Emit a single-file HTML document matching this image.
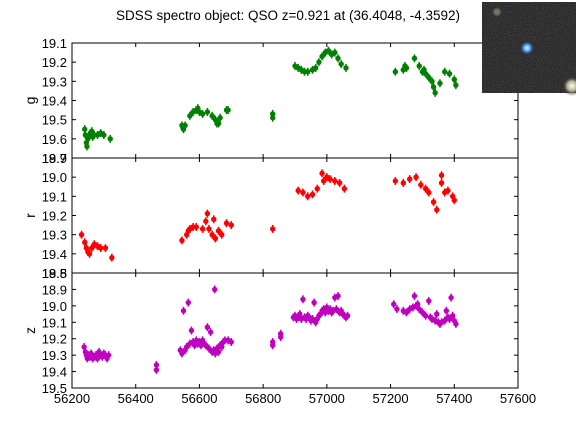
<!DOCTYPE html>
<html><head><meta charset="utf-8"><style>
body{margin:0;background:#fff;}
svg{display:block;font-family:"Liberation Sans",sans-serif;}
</style></head><body>
<svg id="c" width="576" height="432">
<defs>
<radialGradient id="star" cx="50%" cy="50%" r="50%"><stop offset="0" stop-color="#e8f4ff"/><stop offset="0.4" stop-color="#5aa8ff"/><stop offset="1" stop-color="#0a1020" stop-opacity="0"/></radialGradient>
<radialGradient id="corner" cx="50%" cy="50%" r="50%"><stop offset="0" stop-color="#fffff0"/><stop offset="0.5" stop-color="#b0b090"/><stop offset="1" stop-color="#111" stop-opacity="0"/></radialGradient>
<filter id="nz" x="0" y="0" width="100%" height="100%">
<feTurbulence type="fractalNoise" baseFrequency="0.9" numOctaves="1" seed="3"/>
</filter>
</defs>
<text x="288" y="20" text-anchor="middle" font-size="13.5">SDSS spectro object: QSO z=0.921 at (36.4048, -4.3592)</text>
<g id="plots"></g>
<g>
<rect x="482" y="2" width="94" height="91" fill="#141414"/>
<rect x="482" y="2" width="94" height="91" filter="url(#nz)" opacity="0.35"/>
<circle cx="527" cy="48" r="8" fill="url(#star)"/>
<circle cx="572" cy="86" r="10" fill="url(#corner)"/>
<circle cx="497" cy="12" r="6" fill="url(#corner)" opacity="0.4"/>
</g>
</svg>
<script>
const gMjd=[56240,56242,56245,56247,56250,56255,56258,56262,56265,56270,56280,56290,56300,56320,56545,56548,56550,56555,56570,56580,56590,56595,56600,56610,56625,56640,56650,56655,56660,56665,56685,56690,56830,56830,56900,56910,56920,56930,56940,56955,56965,56975,56985,56995,57005,57015,57025,57035,57045,57060,57215,57240,57245,57250,57275,57290,57300,57305,57310,57320,57330,57335,57340,57355,57370,57385,57400,57405];
const gMag=[19.55,19.58,19.62,19.64,19.60,19.58,19.57,19.56,19.59,19.58,19.58,19.57,19.58,19.60,19.53,19.54,19.55,19.53,19.48,19.46,19.45,19.44,19.46,19.47,19.46,19.48,19.50,19.52,19.52,19.49,19.45,19.45,19.47,19.49,19.22,19.23,19.24,19.25,19.25,19.24,19.23,19.20,19.17,19.15,19.14,19.16,19.15,19.18,19.21,19.23,19.25,19.24,19.22,19.23,19.18,19.22,19.25,19.24,19.26,19.28,19.30,19.33,19.36,19.31,19.25,19.26,19.29,19.32];
const rMjd=[56230,56240,56245,56250,56255,56262,56270,56280,56290,56305,56325,56545,56560,56565,56570,56580,56590,56610,56620,56625,56630,56640,56645,56650,56660,56670,56685,56700,56830,56910,56925,56940,56955,56970,56985,56990,57000,57010,57025,57040,57055,57215,57240,57260,57280,57295,57310,57320,57335,57345,57360,57360,57370,57380,57395,57400];
const rMag=[19.30,19.34,19.37,19.39,19.40,19.37,19.35,19.36,19.37,19.37,19.42,19.33,19.30,19.28,19.27,19.26,19.26,19.27,19.23,19.19,19.27,19.30,19.22,19.32,19.28,19.30,19.24,19.25,19.27,19.07,19.08,19.10,19.09,19.06,18.98,19.02,19.00,19.01,19.02,19.03,19.06,19.02,19.03,19.01,19.00,19.04,19.06,19.08,19.13,19.17,19.03,18.99,19.08,19.07,19.10,19.12];
const zMjd=[56238,56242,56245,56248,56252,56256,56260,56265,56270,56275,56280,56285,56290,56295,56300,56305,56310,56315,56465,56465,56540,56545,56550,56555,56560,56565,56570,56575,56580,56585,56590,56595,56600,56605,56610,56615,56620,56625,56630,56635,56640,56645,56648,56650,56655,56660,56665,56670,56675,56680,56690,56700,56830,56830,56855,56855,56895,56900,56905,56910,56915,56920,56925,56930,56935,56940,56945,56950,56955,56960,56965,56970,56975,56980,56985,56990,56995,57000,57005,57010,57015,57020,57025,57030,57035,57040,57045,57050,57055,57060,57065,57210,57220,57240,57250,57260,57270,57275,57280,57285,57290,57300,57310,57320,57325,57330,57340,57345,57350,57355,57360,57370,57375,57380,57385,57390,57395,57400,57405];
const zMag=[19.25,19.28,19.30,19.32,19.30,19.31,19.29,19.32,19.31,19.30,19.32,19.28,19.30,19.31,19.29,19.30,19.32,19.30,19.36,19.39,19.27,19.29,19.03,19.27,19.25,18.98,19.23,19.15,19.22,19.24,19.21,19.23,19.22,19.24,19.21,19.23,19.24,19.13,19.26,19.16,19.28,19.27,18.90,19.29,19.26,19.28,19.24,19.25,19.22,19.21,19.21,19.22,19.22,19.24,19.17,19.19,19.07,19.06,19.08,19.07,19.05,19.08,18.96,19.07,19.08,19.06,19.07,19.09,19.08,18.98,19.10,19.08,19.06,19.05,19.03,19.02,19.04,19.01,19.03,19.02,19.04,19.03,18.95,19.02,18.94,19.04,19.03,19.05,19.06,19.07,19.06,18.99,19.02,19.03,19.04,19.02,19.01,18.94,19.00,18.99,19.02,19.04,19.06,18.97,19.07,19.08,19.09,19.05,19.10,19.11,19.10,19.09,19.03,19.07,19.08,18.95,19.06,19.09,19.11];
const xTicks=[56200,56400,56600,56800,57000,57200,57400,57600];
const panels=[
 {name:'g',mjd:gMjd,mag:gMag,col:'#008000',lo:19.1,hi:19.7,ticks:[19.1,19.2,19.3,19.4,19.5,19.6,19.7],top:43},
 {name:'r',mjd:rMjd,mag:rMag,col:'#ff0000',lo:18.9,hi:19.5,ticks:[18.9,19.0,19.1,19.2,19.3,19.4,19.5],top:158},
 {name:'z',mjd:zMjd,mag:zMag,col:'#bf00bf',lo:18.8,hi:19.5,ticks:[18.8,18.9,19.0,19.1,19.2,19.3,19.4,19.5],top:273}
];
const L=72,R=518,H=115,X0=56200,X1=57600;
const NS='http://www.w3.org/2000/svg';
const root=document.getElementById('plots');
function xs(v){return L+(v-X0)/(X1-X0)*(R-L);}
function mk(t,a,p){const e=document.createElementNS(NS,t);for(const k in a)e.setAttribute(k,a[k]);(p||root).appendChild(e);return e;}
panels.forEach((p,i)=>{
 const ys=v=>p.top+(v-p.lo)/(p.hi-p.lo)*H;
 const g=mk('g',{});
 
 
 p.mjd.forEach((m,j)=>{
  const x=xs(m),y=ys(p.mag[j]);
  const eb=mk('line',{x1:x,x2:x,y1:y-4,y2:y+4,stroke:p.col,'stroke-width':1.5},g);
  
  
  const c=mk('circle',{cx:x,cy:y,r:2.7,fill:p.col},g);
  
  
 });
 const fr=mk('rect',{x:L,y:p.top,width:R-L,height:H,fill:'none',stroke:'#000','stroke-width':1},g);
 
 
 p.ticks.forEach(t=>{
  const y=ys(t);
  mk('line',{x1:L,x2:L+4,y1:y,y2:y,stroke:'#000'},g);
  mk('line',{x1:R-4,x2:R,y1:y,y2:y,stroke:'#000'},g);
  const tx=mk('text',{x:L-5,y:y+5,'text-anchor':'end','font-size':13},g);
  tx.textContent=t.toFixed(1);
  
  
 });
 xTicks.forEach(t=>{
  const x=xs(t);
  mk('line',{x1:x,x2:x,y1:p.top,y2:p.top+4,stroke:'#000'},g);
  mk('line',{x1:x,x2:x,y1:p.top+H-4,y2:p.top+H,stroke:'#000'},g);
 });
 const yl=mk('text',{x:0,y:0,'text-anchor':'middle','font-size':14,transform:'translate(35,'+(p.top+H/2)+') rotate(-90)'},g);
 yl.textContent=p.name;
 
 
});
xTicks.forEach(t=>{
 const tx=mk('text',{x:xs(t),y:403,'text-anchor':'middle','font-size':13});
 tx.textContent=t;
 
 
});
</script>
</body></html>
